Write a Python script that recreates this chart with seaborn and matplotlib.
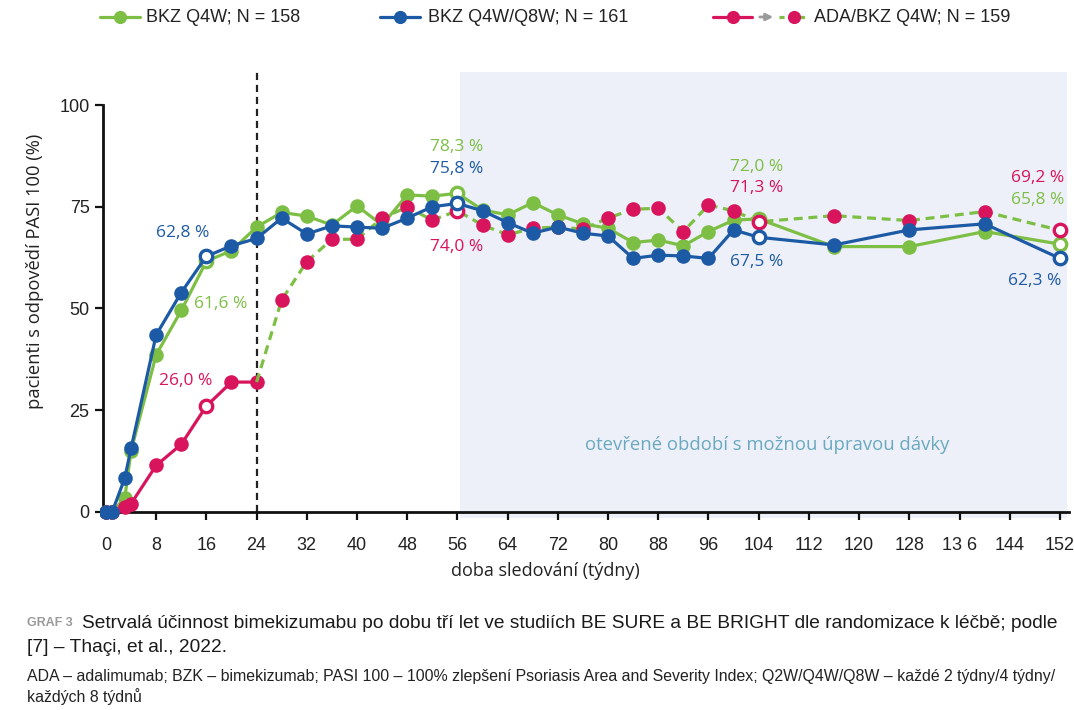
import numpy as np
import pandas as pd
import matplotlib
matplotlib.use("Agg")
import matplotlib.pyplot as plt
import seaborn as sns

sns.set_theme(style="white")
plt.rcParams['font.family'] = ['Open Sans', 'DejaVu Sans']

# data
weeks = [0, 1, 3, 4, 8, 12, 16, 20, 24, 28, 32, 36, 40, 44, 48, 52, 56, 60, 64, 68,
         72, 76, 80, 84, 88, 92, 96, 100, 104, 116, 128, 140, 152]
bkz_q4w = [0, 0, 3.4, 15.0, 38.6, 49.5, 61.6, 64.2, 70.0, 73.6, 72.7, 70.5, 75.2, 70.5,
           77.9, 77.6, 78.3, 74.2, 73.0, 76.0, 73.0, 70.8, 69.7, 66.2, 66.8, 65.4,
           68.9, 71.7, 72.0, 65.2, 65.2, 68.9, 65.8]
bkz_q4w_q8w = [0, 0, 8.3, 15.6, 43.5, 53.9, 62.8, 65.4, 67.2, 72.2, 68.3, 70.3, 70.0,
               69.7, 72.2, 75.0, 75.8, 74.0, 71.1, 68.5, 70.0, 68.5, 67.8, 62.3, 63.1,
               62.9, 62.3, 69.3, 67.5, 65.6, 69.3, 70.8, 62.3]
ada_weeks = [0, 1, 3, 4, 8, 12, 16, 20, 24]
ada = [0, 0, 1.3, 2.0, 11.4, 16.6, 26.0, 31.9, 31.9]
switch_weeks = [24, 28, 32, 36, 40, 44, 48, 52, 56, 60, 64, 68, 72, 76, 80, 84, 88,
                92, 96, 100, 104, 116, 128, 140, 152]
ada_bkz = [31.9, 52.1, 61.5, 67.0, 67.0, 72.2, 74.9, 71.7, 74.0, 70.5, 68.1, 69.7,
           70.0, 69.5, 72.2, 74.4, 74.6, 68.9, 75.4, 74.0, 71.3, 72.8, 71.6, 73.8, 69.2]
hollow_weeks = [16, 56, 104, 152]

xticks = list(range(0, 153, 8))
xticklabels = [str(t) for t in xticks]
xticklabels[xticks.index(136)] = "13 6"
yticks = [0, 25, 50, 75, 100]

GREEN = "#7dbf45"
BLUE = "#1d5aa6"
RED = "#d8145c"
GREY = "#9a9a9a"

df_g = pd.DataFrame({"week": weeks, "val": bkz_q4w})
df_b = pd.DataFrame({"week": weeks, "val": bkz_q4w_q8w})
df_a = pd.DataFrame({"week": ada_weeks, "val": ada})
df_s = pd.DataFrame({"week": switch_weeks, "val": ada_bkz})

fig = plt.figure(figsize=(10.74, 7.10), dpi=100)
ax = fig.add_axes([0.0928, 0.2676, 0.9058, 0.6418])
ax.set_xlim(-1, 154)
ax.set_ylim(-2, 110)

# open-label period shading and switch line
ax.fill_between([56.4, 153.2], -1.5, 108.2, color="#edf0f8", lw=0, zorder=0)
ax.vlines(24, 0, 108.5, colors="#222222", linestyles=(0, (3.2, 2.2)), lw=1.6, zorder=1)

lw = 2.3
ms = 10.5


def hollow(df, color, z):
    h = df[df["week"].isin(hollow_weeks)]
    sns.scatterplot(data=h, x="week", y="val", s=80, color="white", edgecolor=color,
                    linewidth=2.4, ax=ax, zorder=z, legend=False)


sns.lineplot(data=df_g, x="week", y="val", color=GREEN, lw=lw, marker="o", ms=ms,
             markeredgewidth=0, ax=ax, zorder=3, estimator=None)
hollow(df_g, GREEN, 3.5)

sns.lineplot(data=df_a, x="week", y="val", color=RED, lw=lw, marker="o", ms=ms,
             markeredgewidth=0, ax=ax, zorder=4, estimator=None)
sns.lineplot(data=df_s, x="week", y="val", color=GREEN, lw=lw, ax=ax, zorder=4,
             estimator=None, linestyle=(0, (2.8, 1.8)))
sns.scatterplot(data=df_s[df_s["week"] > 24], x="week", y="val", s=ms ** 2, color=RED,
                linewidth=0, ax=ax, zorder=4.2, legend=False)
hollow(pd.concat([df_a, df_s]), RED, 4.5)

sns.lineplot(data=df_b, x="week", y="val", color=BLUE, lw=lw, marker="o", ms=ms,
             markeredgewidth=0, ax=ax, zorder=6, estimator=None)
hollow(df_b, BLUE, 7)

# value labels
labels = [
    (12.3, 68.6, "62,8 %", BLUE), (18.3, 51.1, "61,6 %", GREEN), (12.7, 32.2, "26,0 %", RED),
    (55.9, 89.8, "78,3 %", GREEN), (55.9, 84.2, "75,8 %", BLUE), (55.9, 65.2, "74,0 %", RED),
    (103.7, 84.8, "72,0 %", GREEN), (103.7, 79.5, "71,3 %", RED), (103.7, 61.5, "67,5 %", BLUE),
    (148.5, 82.0, "69,2 %", RED), (148.5, 76.7, "65,8 %", GREEN), (148.0, 56.8, "62,3 %", BLUE),
]
for x, y, t, c in labels:
    ax.text(x, y, t, color=c, fontsize=12.5, ha="center", va="center", zorder=8)

ax.text(105.3, 16.5, "otevřené období s možnou úpravou dávky", color="#6aa9bf",
        fontsize=13.3, ha="center", va="center")

# axes styling
for s in ["top", "right"]:
    ax.spines[s].set_visible(False)
ax.spines["left"].set_position(("data", -0.5))
ax.spines["left"].set_bounds(0, 100)
ax.spines["bottom"].set_position(("data", 0))
ax.spines["bottom"].set_bounds(-0.5, 153.5)
for s in ["left", "bottom"]:
    ax.spines[s].set_color("#111111")
    ax.spines[s].set_linewidth(2)
ax.set_xticks(xticks)
ax.set_xticklabels(xticklabels)
ax.set_yticks(yticks)
ax.tick_params(axis="both", direction="out", length=6, width=1.6, color="#111111",
               labelsize=13, labelcolor="#222222", bottom=True, left=True)
ax.tick_params(axis="x", pad=12)
narrow = ["Liberation Sans", "DejaVu Sans"]
for lab in ax.get_xticklabels() + ax.get_yticklabels():
    lab.set_family(narrow)
ax.set_xlabel("doba sledování (týdny)", fontsize=13, color="#222222")
ax.set_ylabel("pacienti s odpovědí PASI 100 (%)", fontsize=13.2, color="#222222")
ax.xaxis.set_label_coords(0.458, -0.093)
ax.yaxis.set_label_coords(-0.057, 0.545)

# legend drawn in pixel space
lg = fig.add_axes([0, 1 - 40 / 710, 1, 40 / 710])
lg.set_xlim(0, 1074)
lg.set_ylim(40, 0)
lg.axis("off")
lg.plot([100, 140], [17, 17], color=GREEN, lw=lw)
lg.plot([120], [17], "o", color=GREEN, ms=9.5, mew=0)
lg.text(146, 17, "BKZ Q4W; N = 158", fontsize=13, va="center", color="#222222", family=narrow)
lg.plot([380, 420], [17, 17], color=BLUE, lw=lw)
lg.plot([400], [17], "o", color=BLUE, ms=9.5, mew=0)
lg.text(428, 17, "BKZ Q4W/Q8W; N = 161", fontsize=13, va="center", color="#222222", family=narrow)
lg.plot([713, 752], [17, 17], color=RED, lw=lw)
lg.plot([733], [17], "o", color=RED, ms=9.5, mew=0)
lg.annotate("", xy=(776, 17), xytext=(757, 17),
            arrowprops=dict(arrowstyle="-|>", color=GREY, lw=2, mutation_scale=10))
lg.plot([779, 809], [17, 17], color=GREEN, lw=lw, ls=(0, (1.6, 1.6)))
lg.plot([794], [17], "o", color=RED, ms=9.5, mew=0)
lg.text(814, 17, "ADA/BKZ Q4W; N = 159", fontsize=13, va="center", color="#222222", family=narrow)

# caption
fig.text(27 / 1074, 1 - 623 / 710, "GRAF 3", fontsize=9, color="#9a9a9a",
         weight="bold", va="center", family=narrow)
fig.text(82 / 1074, 1 - 623 / 710,
         "Setrvalá účinnost bimekizumabu po dobu tří let ve studiích BE SURE a BE BRIGHT dle randomizace k léčbě; podle",
         fontsize=13.8, color="#1a1a1a", va="center", family=narrow)
fig.text(27 / 1074, 1 - 648 / 710, "[7] – Thaçi, et al., 2022.", fontsize=13.8,
         color="#1a1a1a", va="center", family=narrow)
fig.text(27 / 1074, 1 - 676 / 710,
         "ADA – adalimumab; BZK – bimekizumab; PASI 100 – 100% zlepšení Psoriasis Area and Severity Index; Q2W/Q4W/Q8W – každé 2 týdny/4 týdny/",
         fontsize=11.4, color="#222222", va="center", family=narrow)
fig.text(27 / 1074, 1 - 697 / 710, "každých 8 týdnů", fontsize=11.4, color="#222222",
         va="center", family=narrow)

fig.savefig("out.png", dpi=100)
